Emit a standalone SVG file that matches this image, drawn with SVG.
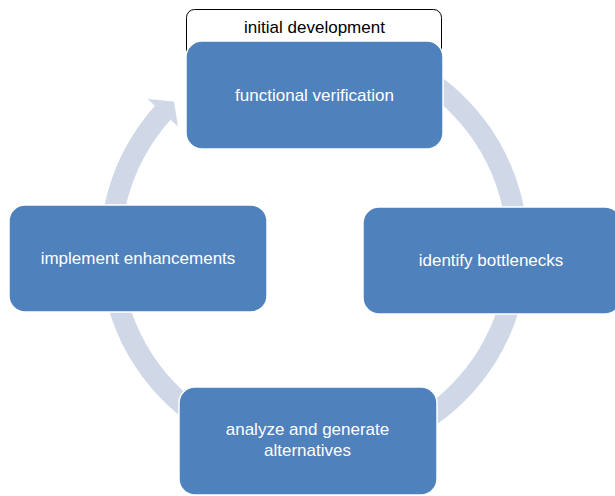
<svg xmlns="http://www.w3.org/2000/svg" width="615" height="496" viewBox="0 0 615 496">
<style>
.box{fill:#4F81BD;stroke:#FFFFFF;stroke-width:1.5}
.lbl{font-family:"Liberation Sans",Arial,sans-serif;font-size:17px;fill:#FFFFFF;text-anchor:middle}
.tab{fill:#FFFFFF;stroke:#000000;stroke-width:1}
.tablbl{font-family:"Liberation Sans",Arial,sans-serif;font-size:17px;fill:#000000;text-anchor:middle}
.ring{fill:#D0D8E8;stroke:none}
</style>
<rect width="615" height="496" fill="#FFFFFF"/>
<g id="connectors">
<path class="ring" d="M258.61,42.29 A214,214 0 1 1 154.97,105.81 L147.54,99.11 L173.9,101.4 L178.0,126.55 L170.57,119.86 A193,193 0 1 0 264.05,62.58 Z"/>
</g>
<g id="tab-initial-development">
<rect class="tab" x="186.5" y="9.5" width="255" height="70" rx="8"/>
<text class="tablbl" x="314.5" y="32.5">initial development</text>
</g>
<g id="node-functional-verification">
<rect class="box" x="186" y="41" width="257" height="108" rx="16"/>
<text class="lbl" x="314.5" y="101">functional verification</text>
</g>
<g id="node-identify-bottlenecks">
<rect class="box" x="363" y="207" width="258" height="107" rx="16"/>
<text class="lbl" x="491" y="266">identify bottlenecks</text>
</g>
<g id="node-analyze">
<rect class="box" x="179" y="387" width="258" height="108" rx="16"/>
<text class="lbl" x="307.5" y="435">analyze and generate</text>
<text class="lbl" x="307.5" y="456">alternatives</text>
</g>
<g id="node-implement-enhancements">
<rect class="box" x="9" y="205" width="258" height="107" rx="16"/>
<text class="lbl" x="138" y="264">implement enhancements</text>
</g>
</svg>
